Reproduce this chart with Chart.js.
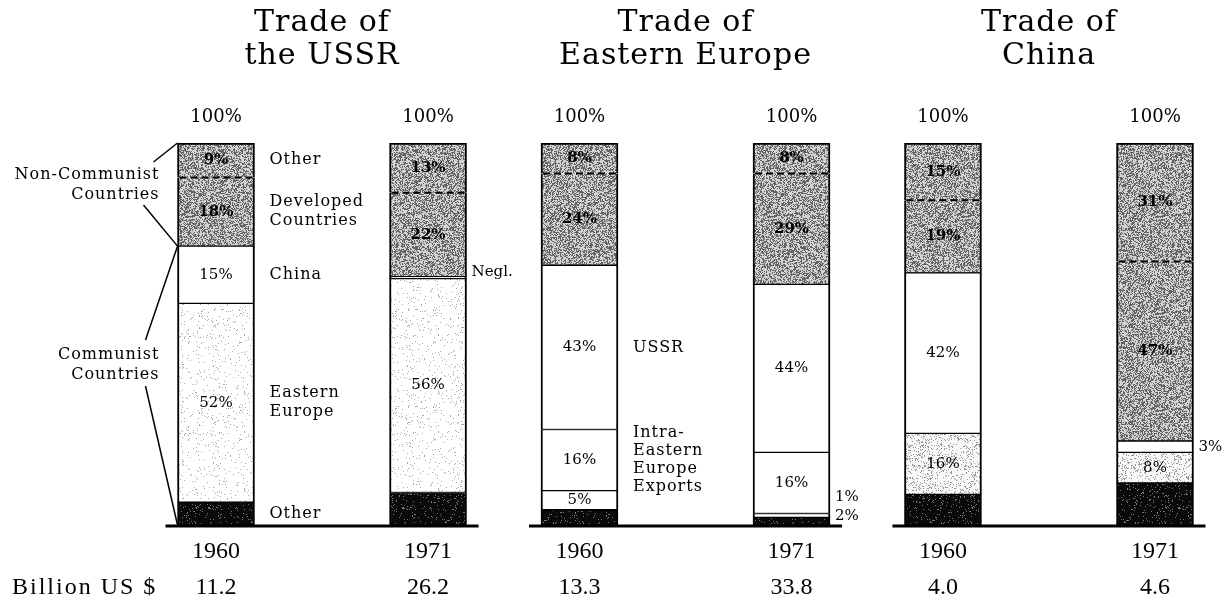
<!DOCTYPE html>
<html>
<head>
<meta charset="utf-8">
<script src="https://cdn.jsdelivr.net/npm/chart.js@4.4.1/dist/chart.umd.min.js"></script>
<style>
html, body { margin: 0; padding: 0; background: #fff; }
canvas { display: block; }
</style>
</head>
<body>
<canvas id="trade" width="1225" height="603"></canvas>
<script>
const panelTitles = [['Trade of', 'the USSR'], ['Trade of', 'Eastern Europe'], ['Trade of', 'China']];
const years = ['1960', '1971', '1960', '1971', '1960', '1971'];
const billionsUS = ['11.2', '26.2', '13.3', '33.8', '4.0', '4.6'];

// stack layers from the bottom up, one value per bar (% of total trade)
const otherCommunist = [6, 8.5, 4, 2, 8, 11];
const easternEurope = [52, 56, null, null, 16, 8];
const eeSmall = [null, null, 5, 1, null, null];
const intraEE = [null, null, 16, 16, null, null];
const mainPartner = [15, 0.5, 43, 44, 42, 3];   // China for the USSR, USSR for the others
const developed = [18, 22, 24, 29, 19, 47];
const otherNonCommunist = [9, 13, 8, 8, 15, 31];

// bar slots on a linear axis: two bars per panel
const pos = years.map((_, i) => Math.floor(i / 2) * 12 + (i % 2) * 7);

function hash(x, y, s) {
    let n = Math.imul(x, 374761393) ^ Math.imul(y, 668265263) ^ Math.imul(s, 1274126177);
    n = Math.imul(n ^ (n >>> 13), 1274126177);
    return ((n ^ (n >>> 16)) >>> 0) / 4294967296;
}

function stipple(density, dark, light, seed) {
    const c = document.createElement('canvas');
    c.width = c.height = 97;
    const g = c.getContext('2d');
    const img = g.createImageData(97, 97);
    for (let y = 0; y < 97; y++) {
        for (let x = 0; x < 97; x++) {
            const v = hash(x, y, seed) < density ? dark : light;
            const k = (y * 97 + x) * 4;
            img.data[k] = img.data[k + 1] = img.data[k + 2] = v;
            img.data[k + 3] = 255;
        }
    }
    g.putImageData(img, 0, 0);
    return g.createPattern(c, 'repeat');
}

const darkFill = stipple(0.45, 100, 210, 1);
const sparseFill = stipple(0.05, 170, 255, 2);
const mediumFill = stipple(0.16, 150, 248, 3);
const blackFill = stipple(0.93, 10, 120, 4);
const eeFills = [sparseFill, sparseFill, '#fff', '#fff', mediumFill, mediumFill];

const SERIF = '"DejaVu Serif", serif';

function layer(values, fill, border) {
    return {
        data: values.map((v, i) => ({ x: pos[i], y: v })),
        backgroundColor: fill,
        borderColor: '#000',
        borderWidth: border || { top: 1, bottom: 1, left: 2, right: 2 },
        borderSkipped: false,
        barThickness: 77,
        stack: 'trade'
    };
}

const datasets = [
    layer(otherCommunist, blackFill),
    layer(easternEurope, eeFills),
    layer(eeSmall, '#fff'),
    layer(intraEE, '#fff'),
    layer(mainPartner, '#fff'),
    layer(developed, darkFill, { top: 0, bottom: 1, left: 2, right: 2 }),
    layer(otherNonCommunist, darkFill, { top: 2, bottom: 0, left: 2, right: 2 })
];

function seg(chart, d, i) {
    const el = chart.getDatasetMeta(d).data[i];
    if (!el || !isFinite(el.y) || !isFinite(el.base)) return null;
    return { x: el.x, top: el.y, bottom: el.base, left: el.x - el.width / 2, right: el.x + el.width / 2 };
}

function text(ctx, str, x, y, font, align, spacing) {
    ctx.font = font;
    ctx.textAlign = align || 'center';
    ctx.textBaseline = 'middle';
    ctx.letterSpacing = spacing || '0px';
    ctx.fillText(str, x, y);
}

const overlay = {
    id: 'overlay',
    afterDatasetsDraw(chart) {
        const ctx = chart.ctx;
        const yBase = chart.scales.y.getPixelForValue(0);
        const yTop = chart.scales.y.getPixelForValue(100);
        ctx.save();
        ctx.fillStyle = '#000';
        ctx.strokeStyle = '#000';

        // dashed split between "other" and developed non-communist trade
        ctx.lineWidth = 2;
        ctx.setLineDash([7, 4]);
        years.forEach((_, i) => {
            const s = seg(chart, 5, i);
            ctx.beginPath();
            ctx.moveTo(s.left + 2, s.top);
            ctx.lineTo(s.right - 2, s.top);
            ctx.stroke();
        });
        ctx.setLineDash([]);

        // percent labels
        years.forEach((_, i) => {
            const outside = [];
            datasets.forEach((ds, d) => {
                const v = ds.data[i].y;
                if (v === null) return;
                const s = seg(chart, d, i);
                const h = s.bottom - s.top;
                const cy = (s.top + s.bottom) / 2;
                if (d === 0) {
                    if (v < 3) outside.push({ str: v + '%', y: cy, x: s.right });
                } else if (v < 1) {
                    outside.push({ str: 'Negl.', y: cy - 6, x: s.right });
                } else if (h < 16) {
                    outside.push({ str: v + '%', y: cy, x: s.right });
                } else {
                    const onDark = d >= 5;
                    text(ctx, v + '%', s.x, cy, (onDark ? 'bold ' : '') + '15px ' + SERIF);
                }
            });
            let prev = Infinity;
            outside.forEach(o => {
                const y = Math.min(o.y, yBase - 9, prev - 19);
                prev = y;
                text(ctx, o.str, o.x + 5, y, '15px ' + SERIF, 'left');
            });
        });

        // category notes next to the first USSR and Eastern Europe bars
        const notes = [
            [0, 6, ['Other']], [0, 5, ['Developed', 'Countries']], [0, 4, ['China']],
            [0, 1, ['Eastern', 'Europe']], [0, 0, ['Other']],
            [2, 4, ['USSR']], [2, 3, ['Intra-', 'Eastern', 'Europe', 'Exports']]
        ];
        notes.forEach(([i, d, lines]) => {
            const s = seg(chart, d, i);
            const lh = lines.length > 2 ? 18 : 19;
            const y0 = (s.top + s.bottom) / 2 - (lines.length - 1) * lh / 2;
            lines.forEach((l, k) => text(ctx, l, s.right + 15, y0 + k * lh, '16px ' + SERIF, 'left', '1px'));
        });

        // communist / non-communist brackets on the left
        const top0 = seg(chart, 6, 0);
        const split = seg(chart, 5, 0).bottom;
        const left = top0.left;
        const tx = left - 18;
        text(ctx, 'Non-Communist', tx, 175, '16px ' + SERIF, 'right', '1px');
        text(ctx, 'Countries', tx, 195, '16px ' + SERIF, 'right', '1px');
        text(ctx, 'Communist', tx, 355, '16px ' + SERIF, 'right', '1px');
        text(ctx, 'Countries', tx, 375, '16px ' + SERIF, 'right', '1px');
        ctx.lineWidth = 1.5;
        [[left - 24, 162, left, yTop], [left - 34, 205, left, split],
         [left - 32, 340, left, split], [left - 32, 386, left, yBase]].forEach(([x1, y1, x2, y2]) => {
            ctx.beginPath();
            ctx.moveTo(x1, y1);
            ctx.lineTo(x2, y2);
            ctx.stroke();
        });

        // panel titles and base lines
        panelTitles.forEach((t, g) => {
            const a = seg(chart, 0, g * 2), b = seg(chart, 0, g * 2 + 1);
            const cx = (a.x + b.x) / 2;
            text(ctx, t[0], cx, 23, '30px ' + SERIF, 'center', '1px');
            text(ctx, t[1], cx, 56, '30px ' + SERIF, 'center', '1px');
            ctx.lineWidth = 3;
            ctx.beginPath();
            ctx.moveTo(a.left - 12, yBase + 1);
            ctx.lineTo(b.right + 12, yBase + 1);
            ctx.stroke();
        });

        // 100% heads, years and totals
        years.forEach((yr, i) => {
            const s = seg(chart, 0, i);
            text(ctx, '100%', s.x, yTop - 26, '18px ' + SERIF);
            text(ctx, yr, s.x, 552, '24px "Liberation Serif", serif');
            text(ctx, billionsUS[i], s.x, 588, '24px "Liberation Serif", serif');
        });
        text(ctx, 'Billion US $', 12, 588, '24px "Liberation Serif", serif', 'left', '2px');
        ctx.restore();
    }
};

const unit = (1155 - 216) / 31;
new Chart(document.getElementById('trade'), {
    type: 'bar',
    data: { datasets },
    options: {
        responsive: false,
        animation: false,
        layout: { padding: { top: 143, bottom: 78, left: 0, right: 0 } },
        plugins: { legend: { display: false }, tooltip: { enabled: false } },
        scales: {
            x: { type: 'linear', display: false, stacked: true, offset: false, min: -216 / unit, max: (1225 - 216) / unit },
            y: { display: false, stacked: true, min: 0, max: 100 }
        }
    },
    plugins: [overlay]
});
</script>
</body>
</html>
